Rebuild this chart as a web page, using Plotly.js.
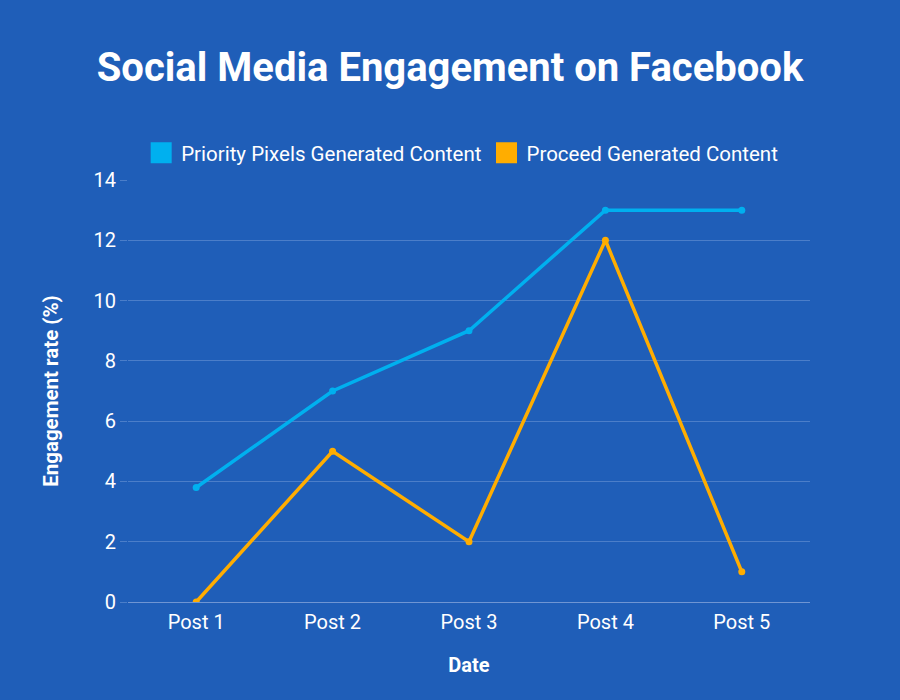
<!DOCTYPE html>
<html><head><meta charset="utf-8">
<script src="https://cdn.plot.ly/plotly-3.0.1.min.js"></script>
<style>html,body{margin:0;padding:0;background:#1f5eb8;}</style>
</head><body><div id="chart" style="width:900px;height:700px;"></div>
<script>
const categories = ["Post 1", "Post 2", "Post 3", "Post 4", "Post 5"];
const priorityValues = [3.8, 7, 9, 13, 13];
const proceedValues = [0, 5, 2, 12, 1];
const seriesNames = ["Priority Pixels Generated Content", "Proceed Generated Content"];
const colors = ["#00b0ef", "#ffad00"];
const yTicks = [0, 2, 4, 6, 8, 10, 12, 14];

const lineTrace = (y, i) => ({
  x: categories, y: y, type: "scatter", mode: "lines+markers",
  line: {color: colors[i], width: 3.5}, marker: {color: colors[i], size: 7},
  showlegend: false, hoverinfo: "skip"
});
const legendTrace = (i) => ({
  x: [null], y: [null], type: "scatter", mode: "markers", name: seriesNames[i],
  marker: {color: colors[i], symbol: "square", size: 16, line: {color: colors[i], width: 5}}
});

const data = [lineTrace(priorityValues, 0), lineTrace(proceedValues, 1), legendTrace(0), legendTrace(1)];

const layout = {
  width: 900, height: 700,
  paper_bgcolor: "#1f5eb8", plot_bgcolor: "#1f5eb8",
  font: {family: "Roboto", color: "#ffffff", size: 20},
  title: {text: "<b>Social Media Engagement on Facebook</b>", font: {family: "Roboto", size: 40, color: "#ffffff"}, x: 0.5, xanchor: "center", y: 0.905, yanchor: "middle"},
  margin: {l: 128, r: 90, t: 180, b: 98},
  showlegend: true,
  legend: {orientation: "h", x: 0.49, xanchor: "center", y: 1.017, yanchor: "bottom", font: {size: 20.5, color: "#ffffff"}, itemwidth: 30, tracegroupgap: 0},
  xaxis: {
    type: "category", range: [-0.5, 4.5], showgrid: false, zeroline: false,
    showline: true, linecolor: "#6f95d3", linewidth: 1,
    ticks: "outside", ticklen: 2, tickcolor: "rgba(0,0,0,0)", tickfont: {size: 20, color: "#ffffff"},
    title: {text: "<b>Date</b>", font: {size: 20, color: "#ffffff"}, standoff: 24}
  },
  yaxis: {
    range: [0, 14], tickvals: yTicks, showgrid: true, gridcolor: "#4b7ec9", gridwidth: 1,
    zeroline: false, ticks: "outside", ticklen: 7, tickcolor: "#4b7ec9",
    tickfont: {size: 20, color: "#ffffff"},
    title: {text: "<b>Engagement rate (%)</b>", font: {size: 20.5, color: "#ffffff"}, standoff: 29}
  }
};
Plotly.newPlot("chart", data, layout, {displayModeBar: false});
</script></body></html>
